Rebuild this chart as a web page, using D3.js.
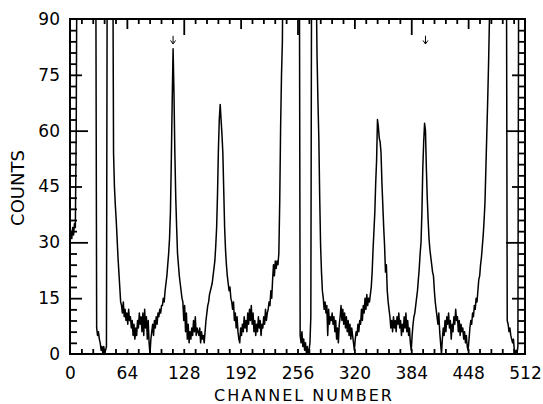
<!DOCTYPE html>
<html>
<head>
<meta charset="utf-8">
<script src="https://cdn.jsdelivr.net/npm/d3@7"></script>
<style>
  body { margin: 0; background: #fff; }
  text { font-family: "DejaVu Sans", sans-serif; fill: #000; }
</style>
</head>
<body>
<script>
// counts per channel (0..512), values above 90 run off the top of the frame
var counts = [
  30,33,31,34,32,35,34,60,120,120,120,120,120,120,120,120,        // 0
  120,120,120,120,120,120,120,120,120,120,120,120,120,110,7,5,    // 16
  6,4,3,1,2,0,2,0,1,2,120,120,120,120,120,120,                    // 32
  120,54,45,40,36,31,26,22,18,14,13,11,14,10,12,9,                // 48
  11,8,12,9,10,7,9,5,8,4,7,5,9,7,11,8,                            // 64
  10,6,11,5,12,7,10,4,9,3,0,4,6,8,5,9,                            // 80
  7,10,8,11,10,12,11,13,13,15,14,17,19,21,24,27,                  // 96
  31,38,52,68,82,70,54,42,34,27,24,21,19,17,15,14,                // 112
  9,13,6,11,4,8,3,6,4,7,5,9,6,10,5,7,                             // 128
  6,5,7,3,6,4,5,3,6,9,11,13,14,16,17,18,                          // 144
  19,21,23,25,29,34,43,55,63,67,63,59,54,44,34,28,                // 160
  24,21,19,17,18,15,14,12,14,9,11,7,10,6,4,3,                     // 176
  7,5,8,6,10,7,9,6,11,8,12,9,13,8,11,6,                           // 192
  9,5,8,6,10,7,9,5,8,7,10,8,12,9,11,12,                           // 208
  14,13,17,15,20,24,21,25,23,25,24,27,41,61,75,84,                // 224
  120,120,120,120,120,120,120,120,120,120,120,120,120,120,120,120,// 240
  120,120,120,5,3,6,2,4,1,3,0,2,0,1,3,10,                         // 256
  120,120,120,120,120,100,80,68,58,42,29,22,17,15,12,14,          // 272
  11,13,5,12,8,10,9,11,8,10,6,9,4,7,3,8,                          // 288
  10,13,9,12,8,11,7,10,6,9,5,8,4,7,5,3,                           // 304
  1,4,6,5,8,6,9,8,12,9,13,11,15,12,16,13,                         // 320
  15,14,16,18,22,28,33,38,46,52,63,61,58,57,54,46,                // 336
  40,34,29,22,24,17,14,12,10,7,9,6,10,7,9,6,                      // 352
  10,8,11,7,9,5,8,6,10,7,11,6,9,5,7,3,                            // 368
  1,5,8,10,11,13,15,17,20,23,27,30,38,50,57,62,                   // 384
  60,50,42,36,31,28,26,24,22,21,17,14,12,10,8,11,                 // 400
  6,3,0,4,7,5,9,6,10,8,11,7,9,4,8,6,                              // 416
  10,8,12,9,10,6,9,5,8,6,7,4,6,3,5,2,                             // 432
  1,4,7,9,8,11,10,13,12,15,14,17,20,21,24,26,                     // 448
  29,32,36,41,50,59,68,78,90,120,120,120,120,120,120,120,         // 464
  120,120,120,120,120,120,120,120,120,120,120,120,9,8,6,7,        // 480
  5,4,3,4,1,0,1,0,2,120,120,120,120,120,120,120,                  // 496
  120                                                             // 512
];

var xTickLabels = [0, 64, 128, 192, 256, 320, 384, 448, 512];
var yTickLabels = [0, 15, 30, 45, 60, 75, 90];
var arrowChannels = [116, 400];

var width = 543, height = 404;
var margin = {left: 70, top: 19, right: 18, bottom: 50};
var plotW = width - margin.left - margin.right;
var plotH = height - margin.top - margin.bottom;

var svg = d3.select("body")
    .append("svg")
    .attr("width", width)
    .attr("height", height);

var x = d3.scaleLinear().domain([0, 512]).range([0, plotW]);
var y = d3.scaleLinear().domain([0, 90]).range([plotH, 0]);

var g = svg.append("g")
    .attr("transform", "translate(" + margin.left + "," + margin.top + ")");

g.append("clipPath")
    .attr("id", "plotclip")
    .append("rect")
    .attr("x", 0)
    .attr("y", 0)
    .attr("width", plotW)
    .attr("height", plotH);

// spectrum trace
var line = d3.line()
    .x(function(d, i) { return x(i); })
    .y(function(d) { return y(d); });

g.append("path")
    .datum(counts)
    .attr("clip-path", "url(#plotclip)")
    .attr("d", line)
    .attr("fill", "none")
    .attr("stroke", "#000")
    .attr("stroke-width", 1.5)
    .attr("stroke-linejoin", "round");

// inward ticks, several lengths
var xMinor = d3.range(1, 40).map(function(i) { return i * 12.8; }).filter(function(v, i) { return (i + 1) % 5 != 0; });
var yMinor = d3.range(1, 30).map(function(i) { return i * 3; }).filter(function(v) { return v % 15 != 0; });

function tickGroup(axis, transform) {
    var t = g.append("g")
        .attr("transform", transform)
        .call(axis);
    t.select(".domain").remove();
    t.selectAll("line").attr("stroke", "#000").attr("stroke-width", 1.8);
    t.selectAll("text").remove();
}

// top: long at 128s, medium at 64s, short otherwise
tickGroup(d3.axisTop(x).tickValues(xMinor).tickSize(-5), "translate(0,0)");
tickGroup(d3.axisTop(x).tickValues([64, 192, 320, 448]).tickSize(-10), "translate(0,0)");
tickGroup(d3.axisTop(x).tickValues([128, 256, 384]).tickSize(-16), "translate(0,0)");

// bottom: short
tickGroup(d3.axisBottom(x).tickValues(xMinor.concat([64, 128, 192, 256, 320, 384, 448])).tickSize(-5), "translate(0," + plotH + ")");

// left
tickGroup(d3.axisLeft(y).tickValues(yMinor).tickSize(-7), "translate(0,0)");
tickGroup(d3.axisLeft(y).tickValues([15, 45, 75]).tickSize(-12), "translate(0,0)");
tickGroup(d3.axisLeft(y).tickValues([30, 60]).tickSize(-18), "translate(0,0)");

// right
tickGroup(d3.axisRight(y).tickValues(yMinor).tickSize(-7), "translate(" + plotW + ",0)");
tickGroup(d3.axisRight(y).tickValues([15, 45, 75]).tickSize(-13), "translate(" + plotW + ",0)");
tickGroup(d3.axisRight(y).tickValues([30, 60]).tickSize(-19), "translate(" + plotW + ",0)");

// frame
g.append("rect")
    .attr("x", 0)
    .attr("y", 0)
    .attr("width", plotW)
    .attr("height", plotH)
    .attr("fill", "none")
    .attr("stroke", "#000")
    .attr("stroke-width", 2);

// tick labels
var xAx = g.append("g")
    .attr("transform", "translate(0," + plotH + ")")
    .call(d3.axisBottom(x).tickValues(xTickLabels).tickSize(0).tickPadding(13));
xAx.select(".domain").remove();
xAx.selectAll("text")
    .style("font-family", "DejaVu Sans, sans-serif")
    .style("font-size", "17px")
    .attr("fill", "#000");

var yAx = g.append("g")
    .call(d3.axisLeft(y).tickValues(yTickLabels).tickSize(0).tickPadding(10));
yAx.select(".domain").remove();
yAx.selectAll("text")
    .style("font-family", "DejaVu Sans, sans-serif")
    .style("font-size", "17px")
    .attr("fill", "#000");

// axis titles
svg.append("text")
    .attr("x", 304)
    .attr("y", 401)
    .attr("text-anchor", "middle")
    .attr("font-size", "16px")
    .attr("letter-spacing", "2px")
    .text("CHANNEL NUMBER");

svg.append("text")
    .attr("transform", "translate(24,188) rotate(-90)")
    .attr("text-anchor", "middle")
    .attr("font-size", "18px")
    .text("COUNTS");

// peak markers
arrowChannels.forEach(function(c) {
    var ax = x(c);
    var top = y(85.5), bot = y(83.3);
    g.append("line")
        .attr("x1", ax).attr("x2", ax)
        .attr("y1", top).attr("y2", bot)
        .attr("stroke", "#000").attr("stroke-width", 1);
    g.append("path")
        .attr("d", "M" + (ax - 2.5) + "," + (bot - 3.5) + "L" + ax + "," + bot + "L" + (ax + 2.5) + "," + (bot - 3.5))
        .attr("fill", "none")
        .attr("stroke", "#000")
        .attr("stroke-width", 1);
});
</script>
</body>
</html>
